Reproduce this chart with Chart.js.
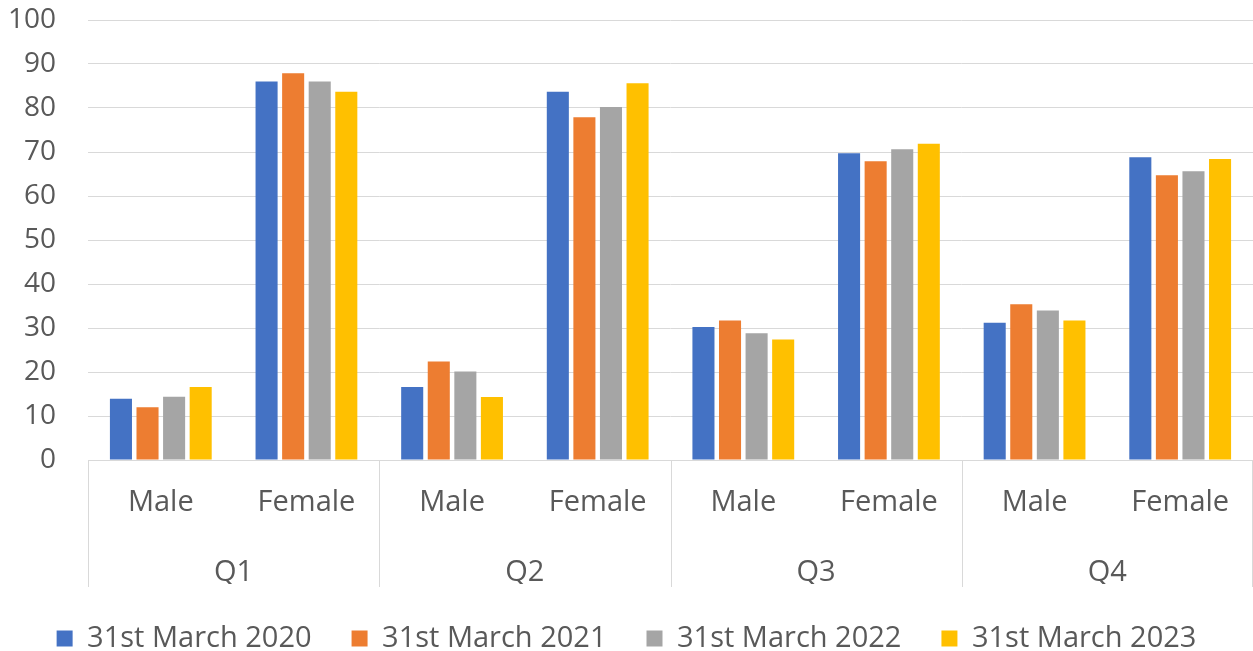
<!DOCTYPE html>
<html>
<head>
<meta charset="utf-8">
<script src="https://cdn.jsdelivr.net/npm/chart.js@4"></script>
<style>
  html, body { margin: 0; padding: 0; background: #fff; }
  #wrap { width: 1253px; height: 651px; }
</style>
</head>
<body>
<div id="wrap"><canvas id="chart" width="1253" height="651"></canvas></div>
<script>
// categories
const genders = ['Male', 'Female', 'Male', 'Female', 'Male', 'Female', 'Male', 'Female'];
const quarters = ['Q1', 'Q2', 'Q3', 'Q4'];
const yTicks = [0, 10, 20, 30, 40, 50, 60, 70, 80, 90, 100];

// series
const seriesNames = ['31st March 2020', '31st March 2021', '31st March 2022', '31st March 2023'];
const mar2020 = [13.9, 86.0, 16.6, 83.7, 30.2, 69.7, 31.2, 68.8];
const mar2021 = [12.0, 87.9, 22.4, 77.9, 31.7, 67.9, 35.4, 64.7];
const mar2022 = [14.4, 86.0, 20.1, 80.2, 28.8, 70.6, 34.0, 65.6];
const mar2023 = [16.6, 83.7, 14.3, 85.6, 27.4, 71.9, 31.7, 68.4];

const colors = ['#4472C4', '#ED7D31', '#A5A5A5', '#FFC000'];
const textColor = '#595959';
const gridColor = '#d9d9d9';
const FONT = '"Open Sans", Lato, sans-serif';
const FS = 29;

// vertical separators between quarter groups, under the plot
const groupLines = {
    id: 'groupLines',
    afterDraw(chart) {
        const x = chart.scales.x, x2 = chart.scales.x2, area = chart.chartArea;
        const ctx = chart.ctx;
        ctx.save();
        ctx.strokeStyle = gridColor;
        ctx.lineWidth = 1;
        for (let g = 0; g <= quarters.length; g++) {
            let px;
            if (g === 0) px = area.left;
            else if (g === quarters.length) px = area.right - 1;
            else px = (x.getPixelForValue(g * 2 - 1) + x.getPixelForValue(g * 2)) / 2;
            px = Math.round(px) + 0.5;
            ctx.beginPath();
            ctx.moveTo(px, area.bottom);
            ctx.lineTo(px, x2.bottom + 3);
            ctx.stroke();
        }
        ctx.restore();
    }
};

const data = [mar2020, mar2021, mar2022, mar2023];

new Chart(document.getElementById('chart'), {
    type: 'bar',
    data: {
        labels: genders,
        datasets: data.map((d, i) => ({
            label: seriesNames[i],
            data: d,
            backgroundColor: colors[i],
            borderWidth: 0,
            categoryPercentage: 0.73,
            barPercentage: 0.83,
        }))
    },
    options: {
        responsive: false,
        animation: false,
        layout: { padding: { top: 20, right: 0, left: 0, bottom: -12 } },
        scales: {
            y: {
                min: 0, max: 100,
                afterBuildTicks: s => { s.ticks = yTicks.map(v => ({ value: v })); },
                afterFit: s => { s.width = 88; s.paddingTop = 0; s.paddingBottom = 0; },
                grid: { color: gridColor, drawTicks: false },
                border: { display: false },
                ticks: { color: textColor, font: { family: FONT, size: 28 }, padding: 32 }
            },
            x: {
                grid: { display: false },
                border: { color: gridColor },
                afterFit: s => { s.height = 66; },
                ticks: { color: textColor, font: { family: FONT, size: FS }, padding: 17, maxRotation: 0 }
            },
            x2: {
                type: 'category',
                labels: quarters,
                position: 'bottom',
                offset: true,
                grid: { display: false },
                border: { display: false },
                afterFit: s => { s.height = 58; },
                ticks: { color: textColor, font: { family: FONT, size: FS }, padding: 21, maxRotation: 0 }
            }
        },
        plugins: {
            legend: {
                position: 'bottom',
                labels: {
                    color: textColor,
                    font: { family: FONT, size: FS },
                    boxWidth: 16, boxHeight: 16,
                    padding: 40
                }
            },
            tooltip: { enabled: false }
        }
    },
    plugins: [groupLines]
});
</script>
</body>
</html>
